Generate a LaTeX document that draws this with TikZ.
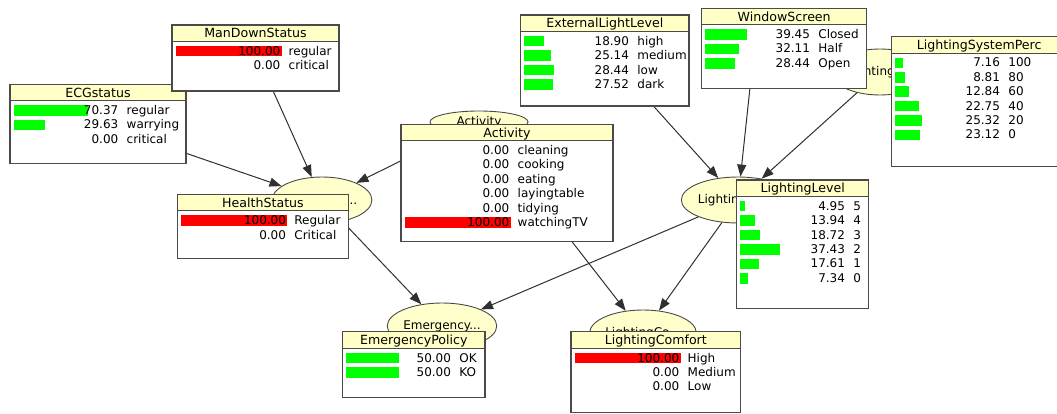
\documentclass[tikz,border=0pt]{standalone}
\usepackage{fontspec}
\setmainfont{DejaVu Sans}
\usetikzlibrary{arrows.meta,shapes.geometric,calc}

\definecolor{hdrfill}{HTML}{FFFFC6}
\definecolor{varfill}{HTML}{FFFFCC}
\definecolor{frame}{HTML}{4A4A4A}
\definecolor{barG}{HTML}{00FF00}
\definecolor{barR}{HTML}{FF0000}
\definecolor{linkcol}{HTML}{303030}

\tikzset{
  varnode/.style={ellipse, draw=frame, fill=varfill, line width=0.9pt,
    minimum width=98pt, minimum height=46pt, inner sep=0pt},
  link/.style={draw=linkcol, line width=1pt, -{Triangle[length=12pt,width=9pt]}},
  panel/.style={draw=frame, fill=white, line width=1.2pt},
  panelhead/.style={draw=frame, fill=hdrfill, line width=1.2pt},
  headtext/.style={anchor=base, inner sep=0pt, font=\fontsize{12.6}{14}\selectfont},
  valtext/.style={anchor=base east, inner sep=0pt},
  stattext/.style={anchor=base west, inner sep=0pt},
}

% monitor window: name, left, top, width, height, title, bar colour, rows
\newcommand\monitor[8]{%
  \draw[panel] (#2,#3) rectangle ++(#4,#5);
  \draw[panelhead] (#2,#3) rectangle ++(#4,16.5);
  \node[headtext] (#1) at ({#2+#4/2},{#3+13}) {#6};
  \foreach \val/\lab [count=\r] in {#8} {
    \pgfmathsetmacro\yc{#3+26+(\r-1)*14.4}
    \pgfmathparse{\val>0 ? 1 : 0}
    \ifnum\pgfmathresult=1
      \fill[#7] ({#2+3.5},{\yc-5}) rectangle ++({\val*1.06},10.5);
    \fi
    \node[valtext] (#1-v\r) at ({#2+108.5},{\yc+4.3}) {\val};
    \node[stattext] (#1-s\r) at ({#2+116.5},{\yc+4.3}) {\lab};
  }
}

\begin{document}
\begin{tikzpicture}[x=1pt,y=-1pt,font=\fontsize{12}{14}\selectfont]
\useasboundingbox (0,0) rectangle (1057,414);
\fill[white] (0,0) rectangle (1057,414);
\clip (0,0) rectangle (1057,414);

% variables of the network (the covered ones carry no label)
\node[varnode] (ecg) at (98,123) {};
\node[varnode] (mds) at (257,55) {};
\node[varnode] (hs)  at (322,200) {HealthSta...};
\node[varnode, minimum height=22pt] (act) at (479,122) {Activity};
\node[varnode] (ell) at (612,60) {};
\node[varnode] (ws)  at (754,50) {};
\node[varnode] (lsp) at (880,72) {LightingS...};
\node[varnode] (ll)  at (738,200) {LightingLevel};
\node[varnode] (ep)  at (442,326) {Emergency...};
\node[varnode] (lc)  at (643,333) {LightingCo...};

% dependencies
\draw[link] (ecg) -- (hs);
\draw[link] (mds) -- (hs);
\draw[link] (act) -- (hs);
\draw[link] (hs)  -- (ep);
\draw[link] (act) -- (lc);
\draw[link] (ll)  -- (ep);
\draw[link] (ll)  -- (lc);
\draw[link] (ell) -- (ll);
\draw[link] (ws)  -- (ll);
\draw[link] (lsp) -- (ll);

% belief monitors
\monitor{ecgbox}{10}{84.3}{176}{79}{ECGstatus}{barG}
  {70.37/regular, 29.63/warrying, 0.00/critical}
\monitor{mdsbox}{172}{25}{167}{66}{ManDownStatus}{barR}
  {100.00/regular, 0.00/critical}
\monitor{hsbox}{177.7}{194.3}{170.6}{64}{HealthStatus}{barR}
  {100.00/Regular, 0.00/Critical}
\monitor{actbox}{401}{124.3}{212}{117.4}{Activity}{barR}
  {0.00/cleaning, 0.00/cooking, 0.00/eating, 0.00/layingtable, 0.00/tidying, 100.00/watchingTV}
\monitor{ellbox}{520.7}{15}{168.3}{91}{ExternalLightLevel}{barG}
  {18.90/high, 25.14/medium, 28.44/low, 27.52/dark}
\monitor{wsbox}{701.7}{8.3}{165}{80}{WindowScreen}{barG}
  {39.45/Closed, 32.11/Half, 28.44/Open}
\monitor{lspbox}{891.7}{36.7}{175}{130}{LightingSystemPerc}{barG}
  {7.16/100, 8.81/80, 12.84/60, 22.75/40, 25.32/20, 23.12/0}
\monitor{llbox}{736.7}{180}{132}{128.3}{LightingLevel}{barG}
  {4.95/5, 13.94/4, 18.72/3, 37.43/2, 17.61/1, 7.34/0}
\monitor{epbox}{342.7}{331.7}{142.3}{66}{EmergencyPolicy}{barG}
  {50.00/OK, 50.00/KO}
\monitor{lcbox}{571}{331.7}{169.7}{80.6}{LightingComfort}{barR}
  {100.00/High, 0.00/Medium, 0.00/Low}
\end{tikzpicture}
\end{document}
